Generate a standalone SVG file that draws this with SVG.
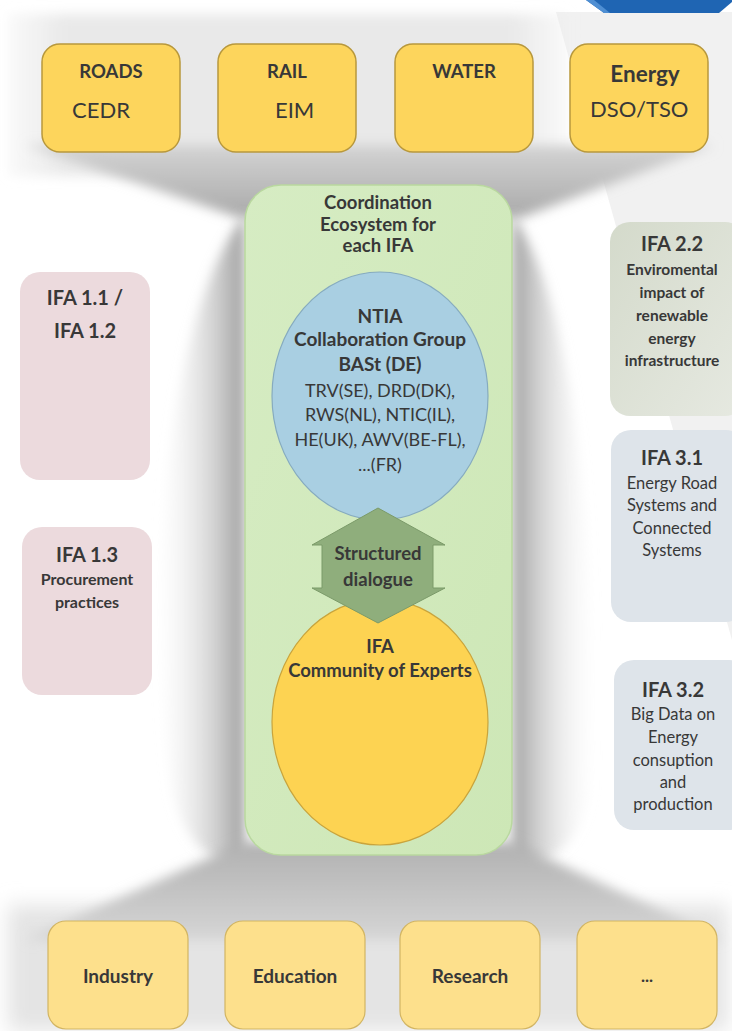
<svg xmlns="http://www.w3.org/2000/svg" width="732" height="1031" viewBox="0 0 732 1031">
<style>
  .t { font-family: Lato, "Liberation Sans", sans-serif; fill: #383838; text-anchor: middle; }
  .b { font-weight: bold; }
  .ts { font-family: Lato, "Liberation Sans", sans-serif; fill: #383838; }
  .top { fill: #fdd55c; stroke: #b8983c; stroke-width: 1.5; }
  .bot { fill: #fde08c; stroke: #d2b563; stroke-width: 1.2; }
  .pink { fill: #ecdadd; }
  .grey { fill: #dee4ea; }
</style>
<defs>
  <filter id="blur" x="-20%" y="-20%" width="140%" height="140%"><feGaussianBlur stdDeviation="6"/></filter>
  <filter id="blur2" x="-20%" y="-20%" width="140%" height="140%"><feGaussianBlur stdDeviation="10"/></filter>
  <linearGradient id="gTop" x1="0" y1="0" x2="0" y2="1">
    <stop offset="0" stop-color="#d4d4d4"/>
    <stop offset="1" stop-color="#a9a9a9"/>
  </linearGradient>
  <linearGradient id="gBot" x1="0" y1="0" x2="0" y2="1">
    <stop offset="0" stop-color="#b0b0b0"/>
    <stop offset="1" stop-color="#d6d6d6"/>
  </linearGradient>
  <linearGradient id="gLeft" gradientUnits="userSpaceOnUse" x1="150" y1="0" x2="240" y2="0">
    <stop offset="0" stop-color="#ffffff" stop-opacity="0"/>
    <stop offset="1" stop-color="#a6a6a6"/>
  </linearGradient>
  <linearGradient id="gRight" gradientUnits="userSpaceOnUse" x1="515" y1="0" x2="600" y2="0">
    <stop offset="0" stop-color="#a6a6a6"/>
    <stop offset="1" stop-color="#ffffff" stop-opacity="0"/>
  </linearGradient>
  <linearGradient id="gBand" x1="0" y1="0" x2="1" y2="0">
    <stop offset="0" stop-color="#ececec" stop-opacity="0.3"/>
    <stop offset="0.1" stop-color="#e9e9e9"/>
    <stop offset="0.9" stop-color="#e9e9e9"/>
    <stop offset="1" stop-color="#ececec" stop-opacity="0.3"/>
  </linearGradient>
  <linearGradient id="gGreen" x1="0" y1="0" x2="1" y2="1">
    <stop offset="0" stop-color="#d6ecc3"/>
    <stop offset="1" stop-color="#cde7b6"/>
  </linearGradient>
  <linearGradient id="g22" x1="0" y1="0" x2="1" y2="1">
    <stop offset="0" stop-color="#d4dacb"/>
    <stop offset="1" stop-color="#e6e9e1"/>
  </linearGradient>
</defs>

<g id="background">
  <rect x="0" y="0" width="732" height="1031" fill="#ffffff"/>
  <polygon points="556,12 732,12 732,640" fill="#f1f1f1"/>
  <rect x="8" y="14" width="560" height="162" fill="url(#gBand)" filter="url(#blur)"/>
  <rect x="8" y="905" width="720" height="126" fill="#e4e4e4" filter="url(#blur2)"/>
  <polygon points="586,0 732,0 732,2 719,13 604,13" fill="#1f65b3"/>
  <polygon points="586,0 594,0 610,13 604,13" fill="#4f8fd3"/>
</g>

<g id="connectors">
  <path d="M 25,145 L 715,145 L 520,218 L 240,218 Z" fill="url(#gTop)" filter="url(#blur)"/>
  <path d="M 245,215 C 175,300 140,560 172,790 C 185,850 220,866 245,866 Z" fill="url(#gLeft)" filter="url(#blur)"/>
  <path d="M 512,215 C 575,300 600,560 590,790 C 580,850 545,866 512,866 Z" fill="url(#gRight)" filter="url(#blur)"/>
  <path d="M 245,842 L 512,842 L 725,940 L 25,940 Z" fill="url(#gBot)" filter="url(#blur)"/>
</g>

<g id="roads">
  <rect class="top" x="42" y="44" width="138" height="108" rx="18"/>
  <text class="t b" x="111" y="78" font-size="18.5">ROADS</text>
  <text class="ts" x="72" y="118" font-size="22">CEDR</text>
</g>
<g id="rail">
  <rect class="top" x="218" y="44" width="138" height="108" rx="18"/>
  <text class="t b" x="287" y="78" font-size="18.5">RAIL</text>
  <text class="ts" x="275" y="118" font-size="22">EIM</text>
</g>
<g id="water">
  <rect class="top" x="395" y="44" width="138" height="108" rx="18"/>
  <text class="t b" x="464" y="78" font-size="18.5">WATER</text>
</g>
<g id="energy">
  <rect class="top" x="570" y="44" width="138" height="108" rx="18"/>
  <text class="t b" x="645" y="82" font-size="22.5">Energy</text>
  <text class="ts" x="590" y="117" font-size="22">DSO/TSO</text>
</g>

<g id="ecosystem">
  <rect x="245" y="185" width="267" height="670" rx="36" fill="url(#gGreen)" stroke="#b9d89f" stroke-width="1.5"/>
  <text class="t b" x="378" y="209" font-size="18.5">Coordination</text>
  <text class="t b" x="378" y="231" font-size="18.5">Ecosystem for</text>
  <text class="t b" x="378" y="252" font-size="18.5">each IFA</text>
</g>

<g id="ntia">
  <ellipse cx="380" cy="396" rx="108" ry="124" fill="#a9cfe2" stroke="#86abbf" stroke-width="1.2"/>
  <text class="t b" x="380" y="323" font-size="19">NTIA</text>
  <text class="t b" x="380" y="346" font-size="19">Collaboration Group</text>
  <text class="t b" x="380" y="371" font-size="19">BASt (DE)</text>
  <text class="t" x="380" y="397" font-size="18">TRV(SE), DRD(DK),</text>
  <text class="t" x="380" y="421" font-size="18">RWS(NL), NTIC(IL),</text>
  <text class="t" x="380" y="446" font-size="18">HE(UK), AWV(BE-FL),</text>
  <text class="t" x="380" y="471" font-size="18">...(FR)</text>
</g>

<g id="experts">
  <ellipse cx="380" cy="722" rx="108" ry="123" fill="#fdd352" stroke="#c9a43c" stroke-width="1.2"/>
  <text class="t b" x="380" y="653" font-size="18.5">IFA</text>
  <text class="t b" x="380" y="677" font-size="18.5">Community of Experts</text>
</g>

<g id="dialogue">
  <path d="M 378,508 L 445,545 L 433,545 L 433,588 L 445,588 L 378,623 L 312,588 L 322,588 L 322,545 L 312,545 Z" fill="#8fae7c" stroke="#7b9a69" stroke-width="1"/>
  <text class="t b" x="378" y="560" font-size="18.5">Structured</text>
  <text class="t b" x="378" y="586" font-size="18.5">dialogue</text>
</g>

<g id="ifa11">
  <rect class="pink" x="20" y="272" width="130" height="208" rx="20"/>
  <text class="t b" x="85" y="305" font-size="20">IFA 1.1 /</text>
  <text class="t b" x="85" y="338" font-size="20">IFA 1.2</text>
</g>
<g id="ifa13">
  <rect class="pink" x="22" y="527" width="130" height="168" rx="20"/>
  <text class="t b" x="87" y="562" font-size="20">IFA 1.3</text>
  <text class="t b" x="87" y="585" font-size="16">Procurement</text>
  <text class="t b" x="87" y="608" font-size="16">practices</text>
</g>

<g id="ifa22">
  <rect x="610" y="222" width="135" height="194" rx="20" fill="url(#g22)"/>
  <text class="t b" x="672" y="251" font-size="20">IFA 2.2</text>
  <text class="t b" x="672" y="275" font-size="15.5">Enviromental</text>
  <text class="t b" x="672" y="298" font-size="15.5">impact of</text>
  <text class="t b" x="672" y="321" font-size="15.5">renewable</text>
  <text class="t b" x="672" y="344" font-size="15.5">energy</text>
  <text class="t b" x="672" y="366" font-size="15.5">infrastructure</text>
</g>
<g id="ifa31">
  <rect class="grey" x="611" y="430" width="135" height="192" rx="20"/>
  <text class="t b" x="672" y="465" font-size="20">IFA 3.1</text>
  <text class="t" x="672" y="489" font-size="16.5">Energy Road</text>
  <text class="t" x="672" y="511" font-size="16.5">Systems and</text>
  <text class="t" x="672" y="534" font-size="16.5">Connected</text>
  <text class="t" x="672" y="556" font-size="16.5">Systems</text>
</g>
<g id="ifa32">
  <rect class="grey" x="614" y="660" width="135" height="170" rx="20"/>
  <text class="t b" x="673" y="697" font-size="20">IFA 3.2</text>
  <text class="t" x="673" y="720" font-size="16.5">Big Data on</text>
  <text class="t" x="673" y="743" font-size="16.5">Energy</text>
  <text class="t" x="673" y="766" font-size="16.5">consuption</text>
  <text class="t" x="673" y="788" font-size="16.5">and</text>
  <text class="t" x="673" y="810" font-size="16.5">production</text>
</g>

<g id="industry">
  <rect class="bot" x="48" y="921" width="140" height="108" rx="18"/>
  <text class="t b" x="118" y="983" font-size="19">Industry</text>
</g>
<g id="education">
  <rect class="bot" x="225" y="921" width="140" height="108" rx="18"/>
  <text class="t b" x="295" y="983" font-size="19">Education</text>
</g>
<g id="research">
  <rect class="bot" x="400" y="921" width="140" height="108" rx="18"/>
  <text class="t b" x="470" y="983" font-size="19">Research</text>
</g>
<g id="more">
  <rect class="bot" x="577" y="921" width="140" height="108" rx="18"/>
  <text class="t b" x="647" y="982" font-size="17">...</text>
</g>
</svg>
